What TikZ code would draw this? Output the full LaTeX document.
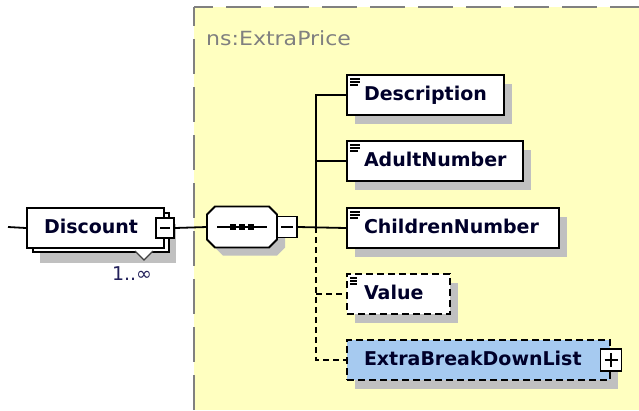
\documentclass[tikz,border=0pt]{standalone}
\usepackage{fontspec}
\usepackage{graphicx}
\setmainfont{DejaVu Sans}
\usetikzlibrary{shadows,calc}

\definecolor{panelfill}{HTML}{FFFFC0}
\definecolor{panelrule}{HTML}{808080}
\definecolor{shadowgray}{HTML}{C0C0C0}
\definecolor{labelink}{HTML}{00002A}
\definecolor{complexfill}{HTML}{A6CAF0}
\definecolor{occursink}{HTML}{22205A}

\begin{document}
\begin{tikzpicture}[x=1pt,y=-1pt,
  conn/.style={line width=1.8pt, draw=black},
  optconn/.style={conn, dash pattern=on 6pt off 4pt},
  elembase/.style={rectangle, draw=black, line width=2pt, fill=white,
    anchor=north west, minimum height=40pt, inner xsep=17pt, inner ysep=0pt,
    align=left, text height=14pt, text depth=3pt, text=labelink,
    font=\bfseries\fontsize{19}{19}\selectfont},
  elem/.style={elembase,
    drop shadow={shadow xshift=8pt, shadow yshift=-9pt, fill=shadowgray, opacity=1}},
  optional/.style={dash pattern=on 7pt off 4pt},
  simpleicon/.style={path picture={
    \draw[line width=1.4pt, black]
      ([xshift=3pt,yshift=-4pt]path picture bounding box.north west) -- ++(10pt,0pt)
      ([xshift=3pt,yshift=-7pt]path picture bounding box.north west) -- ++(10pt,0pt)
      ([xshift=3pt,yshift=-10pt]path picture bounding box.north west) -- ++(8pt,0pt);}},
  togglebox/.style={rectangle, draw=black, fill=white, line width=1.8pt,
    minimum width=19pt, minimum height=20pt, inner sep=0pt},
  collapsebox/.style={togglebox, path picture={
    \draw[line width=1.6pt]
      ([xshift=4pt]path picture bounding box.west) -- ([xshift=-4pt]path picture bounding box.east);}},
  expandbox/.style={togglebox, path picture={
    \draw[line width=1.6pt]
      ([xshift=4pt]path picture bounding box.west) -- ([xshift=-4pt]path picture bounding box.east)
      ([yshift=-4pt]path picture bounding box.north) -- ([yshift=4pt]path picture bounding box.south);}},
  seqframe/.style={rectangle, anchor=north west, minimum width=70pt, minimum height=41pt,
    inner sep=0pt, outer sep=0pt},
  octopath/.style={insert path={
    ([xshift=8pt]#1.north west) -- ([xshift=-8pt]#1.north east) --
    ([yshift=-8pt]#1.north east) -- ([yshift=8pt]#1.south east) --
    ([xshift=-8pt]#1.south east) -- ([xshift=8pt]#1.south west) --
    ([yshift=8pt]#1.south west) -- ([yshift=-8pt]#1.north west) -- cycle}},
]
\useasboundingbox (0,0) rectangle (639,410);

% complex type panel
\fill[panelfill] (194,7) rectangle (639,410);
\draw[panelrule, line width=2pt, dash pattern=on 35pt off 13pt, dash phase=16pt] (194,7) -- (639,7);
\draw[panelrule, line width=2pt, dash pattern=on 35pt off 13pt, dash phase=16pt] (194,7) -- (194,410);
\node[anchor=base west, inner sep=0pt, text=panelrule, font=\fontsize{19.5}{19.5}\selectfont]
  (paneltitle) at (206,45) {\scalebox{1.13}[1]{ns:ExtraPrice}};

% repeated element Discount
\node[rectangle, draw=black, line width=2pt, fill=white, anchor=north west,
  minimum width=136pt, minimum height=39pt, inner sep=0pt,
  drop shadow={shadow xshift=7pt, shadow yshift=-11pt, fill=shadowgray, opacity=1}]
  (dback) at (32,212) {};
\filldraw[fill=white, draw=black!75, line width=1.4pt] (135,251) -- (144,260) -- (153,251);
\node[elembase, text width=103pt] (discount) at (26,207) {Discount};
\node[collapsebox, minimum width=18pt] (dminus) at (discount.east) {};
\node[inner sep=0pt, text=occursink, font=\fontsize{19}{19}\selectfont] (occurs) at (132,273.5) {1..∞};

% sequence compositor
\node[seqframe] (seq) at (207,206.5) {};
\node[seqframe] (seqsh) at (215,214.5) {};
\path[fill=shadowgray, octopath=seqsh];
\path[fill=white, draw=black, line width=1.8pt, octopath=seq];
\draw[line width=1.8pt] ([xshift=10pt]seq.west) -- ([xshift=-10pt]seq.east);
\foreach \dx in {-9,0,9}
  \fill ($(seq.center)+(\dx,0)$) +(-3,-3) rectangle +(3,3);
\node[collapsebox, minimum width=20pt, minimum height=21pt] (seqminus) at ($(seq.east)+(10,0)$) {};

% child elements
\node[elem, simpleicon, text width=123pt] (desc) at (346,74) {Description};
\node[elem, simpleicon, text width=142pt] (adult) at (346,140) {AdultNumber};
\node[elem, simpleicon, text width=178pt] (child) at (346,207) {ChildrenNumber};
\node[elem, simpleicon, optional, text width=69pt] (value) at (346,273) {Value};
\node[elem, optional, fill=complexfill, text width=229pt] (ebdl) at (346,339) {ExtraBreakDownList};
\node[expandbox, minimum width=21pt, minimum height=22pt] (ebdlplus) at (ebdl.east) {};

% connectors
\coordinate (inlet) at (8,227);
\coordinate (trunk) at (316,227);
\draw[conn] (inlet) -- (discount.west);
\draw[conn] (dminus.east) -- (seq.west);
\draw[conn] (seqminus.east) -- (child.west);
\draw[conn] (desc.west) -| (trunk);
\draw[conn] (adult.west -| trunk) -- (adult.west);
\draw[optconn] (trunk) |- (ebdl.west);
\draw[optconn] (value.west -| trunk) -- (value.west);
\end{tikzpicture}
\end{document}
